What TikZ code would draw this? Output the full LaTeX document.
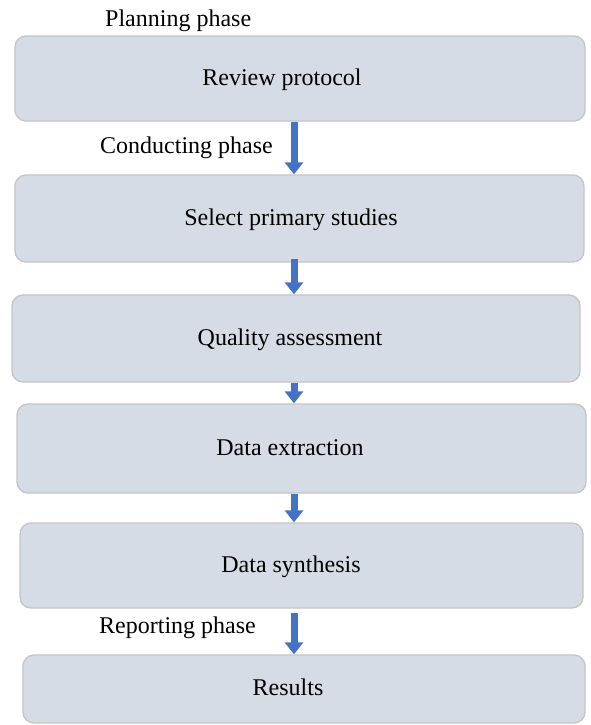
\documentclass[tikz,border=0pt]{standalone}
\usepackage{fontspec}
\setmainfont{Liberation Serif}
\usetikzlibrary{arrows.meta}
\definecolor{boxfill}{HTML}{D6DCE5}
\definecolor{boxline}{HTML}{C4C4C4}
\definecolor{arrfill}{HTML}{4472C4}
\definecolor{arrline}{HTML}{2F5597}
\tikzset{
  stagebox/.style={draw=boxline, line width=1.3pt, fill=boxfill, rounded corners=11pt,
    inner sep=0pt},
  stagetext/.style={anchor=base, inner sep=0pt, font=\fontsize{24}{28}\selectfont},
  phaselabel/.style={anchor=base west, inner sep=0pt, font=\fontsize{24}{28}\selectfont},
  bigarrow/.style={draw=arrfill, line width=7pt,
    -{Triangle[width=18pt,length=12pt,fill=arrfill,color=arrfill]}}
}
\begin{document}
\begin{tikzpicture}[x=1pt,y=-1pt]
\useasboundingbox (0,0) rectangle (590,725);
\coordinate (ax) at (294,0);
\node[stagebox, minimum width=570pt, minimum height=85pt] (b1) at (300,78.5) {};
\node[stagebox, minimum width=569pt, minimum height=87pt] (b2) at (299.5,218.5) {};
\node[stagebox, minimum width=568pt, minimum height=87pt] (b3) at (296,338.5) {};
\node[stagebox, minimum width=569pt, minimum height=89pt] (b4) at (301.5,448.5) {};
\node[stagebox, minimum width=563pt, minimum height=85pt] (b5) at (301.5,565.5) {};
\node[stagebox, minimum width=562pt, minimum height=68pt] (b6) at (304,689) {};
\node[stagetext] (t1) at (282,85) {Review protocol};
\node[stagetext] (t2) at (291,225) {Select primary studies};
\node[stagetext] (t3) at (290,345) {Quality assessment};
\node[stagetext] (t4) at (290,455) {Data extraction};
\node[stagetext] (t5) at (291,572) {Data synthesis};
\node[stagetext] (t6) at (288,695) {Results};
\node[phaselabel] (p1) at (105,27) {Planning phase};
\node[phaselabel] (p2) at (100,153) {Conducting phase};
\node[phaselabel] (p3) at (99,633) {Reporting phase};
\draw[bigarrow] (b1.south -| ax) -- (b2.north -| ax);
\draw[bigarrow, shorten <=-4pt] (b2.south -| ax) -- (b3.north -| ax);
\draw[bigarrow] (b3.south -| ax) -- (b4.north -| ax);
\draw[bigarrow] (b4.south -| ax) -- (b5.north -| ax);
\draw[bigarrow, shorten <=4pt] (b5.south -| ax) -- (b6.north -| ax);
\end{tikzpicture}
\end{document}
